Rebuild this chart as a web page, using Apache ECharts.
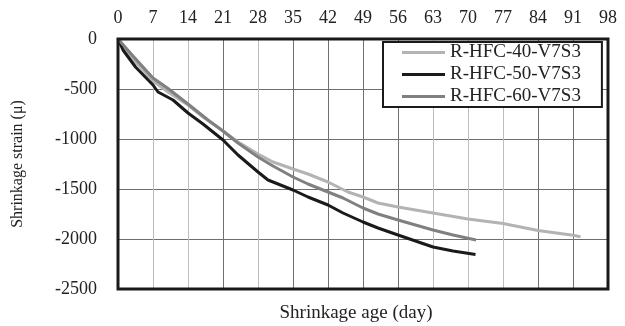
<!DOCTYPE html>
<html>
<head>
<meta charset="utf-8">
<script src="https://cdn.jsdelivr.net/npm/echarts@6/dist/echarts.min.js"></script>
<style>html,body{margin:0;padding:0;background:#fff;}#c{width:625px;height:326px;}</style>
</head>
<body>
<div id="c"></div>
<script>
var xTicks = [0, 7, 14, 21, 28, 35, 42, 49, 56, 63, 70, 77, 84, 91, 98];
var yTicks = [0, -500, -1000, -1500, -2000, -2500];
var seriesNames = ['R-HFC-40-V7S3', 'R-HFC-50-V7S3', 'R-HFC-60-V7S3'];

var days40 = [0, 3, 7, 10, 14, 17, 21, 24, 28, 31, 35, 38, 42, 46, 49, 52, 56, 63, 70, 77, 84, 91, 92.5];
var strain40 = [0, -200, -420, -530, -660, -780, -920, -1030, -1150, -1230, -1300, -1350, -1430, -1530, -1580, -1640, -1680, -1740, -1800, -1845, -1915, -1962, -1977];

var days50 = [0, 1, 3.5, 7, 8, 11, 14, 17, 21, 24, 28, 30, 35, 38, 42, 45, 49, 52, 56, 63, 67, 71.5];
var strain50 = [0, -110, -280, -460, -530, -610, -740, -850, -1010, -1160, -1330, -1410, -1510, -1580, -1660, -1740, -1830, -1890, -1960, -2080, -2120, -2155];

var days60 = [0, 3, 7, 10, 14, 18, 21, 24, 28, 31, 35, 38, 42, 45, 49, 52, 56, 63, 67, 71.6];
var strain60 = [0, -170, -390, -495, -650, -810, -920, -1040, -1180, -1270, -1380, -1450, -1530, -1590, -1690, -1750, -1810, -1910, -1960, -2010];

function pairs(xs, ys) { return xs.map(function (x, i) { return [x, ys[i]]; }); }

var colors = ['#b3b3b3', '#1a1a1a', '#808080'];
var font = '"Liberation Serif", "Times New Roman", serif';
var vLineColors = ['#bdbdbd', '#bdbdbd', '#707070', '#bdbdbd', '#707070', '#707070', '#707070', '#707070', '#bdbdbd', '#bdbdbd', '#bdbdbd', '#707070', '#707070', '#707070', '#707070'];

var chart = echarts.init(document.getElementById('c'), null, { renderer: 'canvas' });
chart.setOption({
  animation: false,
  backgroundColor: '#fff',
  grid: { left: 118, top: 39, width: 490, height: 250, show: true, borderColor: '#1a1a1a', borderWidth: 3, backgroundColor: 'transparent', z: 10 },
  xAxis: {
    type: 'value', position: 'top', min: xTicks[0], max: xTicks[xTicks.length - 1], interval: 7,
    axisLine: { show: false }, axisTick: { show: false },
    axisLabel: { fontFamily: font, fontSize: 18, color: '#222', margin: 12, formatter: function (v) { return String(v); } },
    splitLine: { show: true, showMinLine: false, showMaxLine: false, lineStyle: { color: vLineColors, width: 1 } }
  },
  yAxis: {
    type: 'value', min: yTicks[yTicks.length - 1], max: yTicks[0], interval: 500,
    axisLine: { show: false }, axisTick: { show: false },
    axisLabel: { fontFamily: font, fontSize: 18, color: '#222', margin: 21, formatter: function (v) { return String(v); } },
    splitLine: { show: true, showMinLine: false, showMaxLine: false, lineStyle: { color: '#6e6e6e', width: 1 } },
    name: 'Shrinkage strain (\u03bc)', nameLocation: 'middle', nameRotate: 90, nameGap: 92,
    nameTextStyle: { fontFamily: font, fontSize: 16, color: '#222' }
  },
  legend: {
    orient: 'vertical', left: 383, top: 42, data: seriesNames,
    backgroundColor: '#fff', borderColor: '#1a1a1a', borderWidth: 2,
    padding: [1, 21, 1, 19], itemGap: 3, itemWidth: 43, itemHeight: 3, icon: 'rect',
    textStyle: { fontFamily: font, fontSize: 19, color: '#222', lineHeight: 19 }
  },
  graphic: [{
    type: 'text', x: 356, y: 313,
    style: { text: 'Shrinkage age (day)', fontFamily: font, fontSize: 19, fill: '#222', textAlign: 'center', textVerticalAlign: 'middle' }
  }],
  series: [
    { name: seriesNames[0], type: 'line', data: pairs(days40, strain40), showSymbol: false, symbol: 'none', lineStyle: { width: 3, color: colors[0] }, itemStyle: { color: colors[0] }, z: 3 },
    { name: seriesNames[1], type: 'line', data: pairs(days50, strain50), showSymbol: false, symbol: 'none', lineStyle: { width: 3, color: colors[1] }, itemStyle: { color: colors[1] }, z: 3 },
    { name: seriesNames[2], type: 'line', data: pairs(days60, strain60), showSymbol: false, symbol: 'none', lineStyle: { width: 3, color: colors[2] }, itemStyle: { color: colors[2] }, z: 3 }
  ]
});
</script>
</body>
</html>
